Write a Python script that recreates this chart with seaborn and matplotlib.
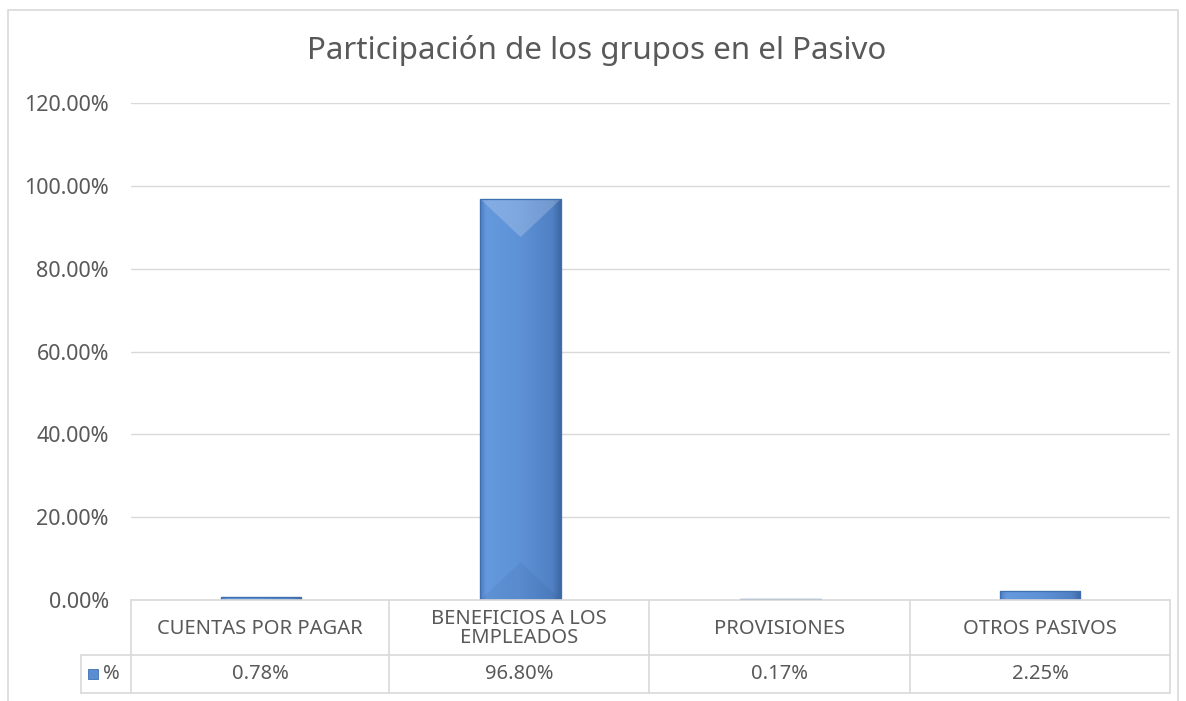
import numpy as np
import pandas as pd
import matplotlib.pyplot as plt
import seaborn as sns
from matplotlib.patches import Polygon, Rectangle
from matplotlib.lines import Line2D
from matplotlib.colors import LinearSegmentedColormap

categories = ['CUENTAS POR PAGAR', 'BENEFICIOS A LOS\nEMPLEADOS', 'PROVISIONES', 'OTROS PASIVOS']
values = [0.78, 96.80, 0.17, 2.25]
value_labels = ['0.78%', '96.80%', '0.17%', '2.25%']
series_name = '%'
title = 'Participación de los grupos en el Pasivo'
yticks = [0, 20, 40, 60, 80, 100, 120]

TEXT = '#595959'
GRID = '#D9D9D9'
BLUE = '#5A8ED3'
EDGE = '#3F6FAE'

sns.set_style('white')
plt.rcParams['font.family'] = ['Noto Sans', 'DejaVu Sans']

df = pd.DataFrame({'cat': categories, 'val': values})

fig = plt.figure(figsize=(11.86, 7.01), dpi=100)
ax = fig.add_axes([131 / 1186, 1 - 600 / 701, (1170 - 131) / 1186, (600 - 103) / 701])

sns.barplot(data=df, x='cat', y='val', color=BLUE, width=0.31, ax=ax,
            edgecolor=EDGE, linewidth=0.8, saturation=1, zorder=3)

ax.set_ylim(0, 120)
ax.set_xlim(-0.5, len(categories) - 0.5)
ax.set_yticks(yticks)
ax.set_yticklabels([f'{t:.2f}%' for t in yticks], fontsize=15.5, color=TEXT)
ax.tick_params(axis='y', length=0, pad=16)
ax.set_xticks([])
ax.set_xlabel('')
ax.set_ylabel('')
ax.yaxis.grid(True, color=GRID, linewidth=1)
ax.set_axisbelow(True)
for s in ax.spines.values():
    s.set_visible(False)

# gradient fill + bevel look on the bars
grad = LinearSegmentedColormap.from_list('bar', [
    (0.0, '#4D7EC0'), (0.07, '#6599DE'), (0.45, '#5F93D8'),
    (0.9, '#5081C4'), (1.0, '#3D69A4')])
px_per_unit = ax.transData.transform((0, 1))[1] - ax.transData.transform((0, 0))[1]
for bar in list(ax.patches):
    x0 = bar.get_x()
    w = bar.get_width()
    h = bar.get_height()
    x1 = x0 + w
    xc = x0 + w / 2
    im = ax.imshow(np.linspace(0, 1, 64).reshape(1, -1), cmap=grad, aspect='auto',
                   extent=(x0, x1, 0, h), zorder=3.5, interpolation='bilinear')
    im.set_clip_path(bar)
    dy = 38 / px_per_unit
    if h > 2 * dy:
        ax.add_patch(Polygon([(x0, h), (x1, h), (xc, h - dy)], closed=True,
                             facecolor='white', alpha=0.2, edgecolor='none', zorder=4))
        ax.add_patch(Polygon([(x0, 0), (x1, 0), (xc, dy)], closed=True,
                             facecolor='#1F3F70', alpha=0.08, edgecolor='none', zorder=4))
    ax.add_patch(Rectangle((x0, 0), w, h, facecolor='none',
                           edgecolor=EDGE, linewidth=0.9, zorder=5))

ax.set_xlim(-0.5, len(categories) - 0.5)
ax.set_ylim(0, 120)

# data table below the axis
def fx(px):
    return px / 1186

def fy(py):
    return 1 - py / 701

col_edges = [131, 389, 649, 910, 1170]
row1_top, row1_bot, row2_bot = 600, 655, 693
lc = dict(color=GRID, linewidth=1.2, transform=fig.transFigure)
fig.add_artist(Line2D([fx(131), fx(1170)], [fy(row1_top)] * 2, **lc))
fig.add_artist(Line2D([fx(81), fx(1170)], [fy(row1_bot)] * 2, **lc))
fig.add_artist(Line2D([fx(81), fx(1170)], [fy(row2_bot)] * 2, **lc))
for e in col_edges:
    fig.add_artist(Line2D([fx(e)] * 2, [fy(row1_top), fy(row2_bot)], **lc))
fig.add_artist(Line2D([fx(81)] * 2, [fy(row1_bot), fy(row2_bot)], **lc))

for i, (cat, lab) in enumerate(zip(categories, value_labels)):
    cx = fx((col_edges[i] + col_edges[i + 1]) / 2)
    fig.text(cx, fy((row1_top + row1_bot) / 2 + 1), cat, ha='center', va='center',
             fontsize=14.5, color=TEXT, linespacing=0.98)
    fig.text(cx, fy((row1_bot + row2_bot) / 2), lab, ha='center', va='center',
             fontsize=14.5, color=TEXT)

fig.add_artist(Rectangle((fx(88), fy(679)), fx(10), 10 / 701, facecolor=BLUE,
                         edgecolor=EDGE, linewidth=0.6, transform=fig.transFigure))
fig.text(fx(103), fy(674), series_name, ha='left', va='center', fontsize=14.5, color=TEXT)

fig.text(597 / 1186, fy(50), title, ha='center', va='center', fontsize=22.5, color=TEXT)

# outer chart border
fig.add_artist(Rectangle((fx(8), -0.01), fx(1170), fy(10) + 0.01, facecolor='none',
                         edgecolor=GRID, linewidth=1.2, transform=fig.transFigure))

fig.savefig('out.png', dpi=100)
